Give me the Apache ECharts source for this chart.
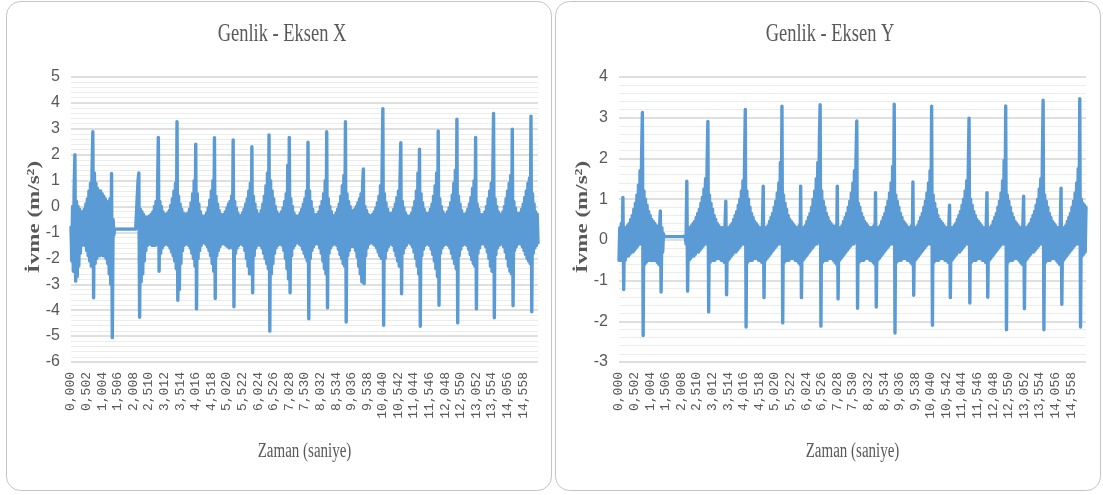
<!DOCTYPE html>
<html>
<head>
<meta charset="utf-8">
<title>Genlik - Eksen X / Y</title>
<script src="https://cdn.jsdelivr.net/npm/echarts@6/dist/echarts.min.js"></script>
<style>
  html, body { margin: 0; padding: 0; background: #ffffff; }
  #chart { width: 1103px; height: 495px; }
</style>
</head>
<body>
<div id="chart"></div>
<script>
// Sampling interval of the accelerometer record (seconds)
const sampleStep = 0.0251;

// Acceleration on the X axis (m/s²), one value per sample
const accelX = [
  -0.8, -2.1, 0.0, -2.5, 0.6,
  2.0, -2.88,
  0.2, -2.7, 0.0, -2.3, -0.1, -1.8, -0.2, -1.5, -0.2, -1.4, -0.1, -1.5, 0.1, -1.7, 0.3, -1.9, 0.6, -2.1, 0.9, -2.3, 1.4,
  2.89, -3.52,
  1.3, -2.2, 0.9, -2.0, 0.7, -1.9, 0.6, -1.9, 0.6, -1.8, 0.5, -1.9, 0.4, -1.9, 0.3, -2.0, 0.2, -2.2, 0.1, -2.6, 0.3, -3.0,
  1.28, -5.06,
  -0.5, -1.1,
  -0.87, -0.87, -0.87, -0.87, -0.87, -0.87, -0.87, -0.87, -0.87, -0.87, -0.87, -0.87, -0.87, -0.87, -0.87,
  -0.87, -0.87, -0.87, -0.87, -0.87, -0.87, -0.87, -0.87, -0.87, -0.87, -0.87, -0.87, -0.87, -0.87,
  -0.8, 1.0,
  1.3, -4.27,
  -0.1, -2.9, -0.2, -2.6, -0.3, -2.1, -0.4, -1.7, -0.4, -1.5, -0.4, -1.45, -0.35, -1.45, -0.3, -1.5, -0.2, -1.5, 0.0, -1.5, 0.2, -1.45, 0.5,
  2.67, -2.5,
  0.2, -1.8, 0.0, -1.6, -0.2, -1.5, -0.3, -1.45, -0.3, -1.45, -0.25, -1.5, -0.15, -1.6, 0.05, -1.75, 0.3, -1.9, 0.6, -2.1, 0.9, -2.4,
  3.27, -3.62,
  0.4, -3.2, 0.1, -2.2, -0.1, -1.7, -0.25, -1.5, -0.3, -1.45, -0.3, -1.45, -0.25, -1.5, -0.1, -1.6, 0.15, -1.8, 0.5, -2.0, 1.0, -2.3,
  2.41, -3.95,
  0.5, -2.0, 0.1, -1.7, -0.2, -1.5, -0.35, -1.4, -0.4, -1.4, -0.35, -1.45, -0.25, -1.55, -0.05, -1.7, 0.25, -1.9, 0.6, -2.2, 1.0, -2.5,
  2.66, -3.55,
  0.4, -1.9, 0.1, -1.7, -0.15, -1.55, -0.3, -1.45, -0.35, -1.4, -0.3, -1.45, -0.2, -1.5, -0.05, -1.55, 0.1, -1.6, 0.2, -1.55, 0.4, -1.6,
  2.57, -3.87,
  0.2, -1.8, -0.05, -1.6, -0.25, -1.5, -0.35, -1.4, -0.35, -1.45, -0.25, -1.5, -0.1, -1.7, 0.1, -2.0, 0.3, -2.3, 0.6, -2.6, 0.9, -2.6,
  2.31, -3.33,
  0.4, -1.9, 0.1, -1.6, -0.15, -1.5, -0.3, -1.45, -0.3, -1.5, -0.15, -1.6, 0.1, -1.8, 0.4, -2.0, 0.8, -2.2, 1.3, -2.4,
  2.76, -4.81,
  1.0, -2.6, 0.6, -2.2, 0.3, -1.8, 0.0, -1.6, -0.2, -1.5, -0.3, -1.45, -0.3, -1.45, -0.2, -1.5, -0.05, -1.7, 0.2, -2.0, 0.5, -2.4, 1.6, -2.8,
  2.67, -3.33,
  0.3, -1.9, 0.0, -1.6, -0.25, -1.5, -0.35, -1.4, -0.4, -1.4, -0.35, -1.45, -0.25, -1.5, -0.1, -1.65, 0.1, -1.8, 0.3, -1.95, 0.6, -2.1,
  2.48, -4.33,
  0.6, -2.0, 0.2, -1.7, -0.1, -1.55, -0.3, -1.45, -0.35, -1.4, -0.3, -1.45, -0.2, -1.6, 0.0, -1.8, 0.2, -2.1, 0.5, -2.4, 1.0, -2.6,
  2.89, -3.91,
  0.3, -1.8, 0.0, -1.6, -0.2, -1.5, -0.35, -1.4, -0.35, -1.45, -0.25, -1.5, -0.1, -1.65, 0.1, -1.85, 0.4, -2.0, 0.8, -2.2, 1.2, -2.3,
  3.27, -4.46,
  0.5, -1.9, 0.2, -1.7, 0.0, -1.55, -0.15, -1.5, -0.2, -1.55, -0.1, -1.7, 0.0, -1.95, 0.15, -2.3, 0.3, -2.6, 0.5, -2.9, 0.8,
  1.45, -2.97,
  0.0, -1.9, -0.15, -1.6, -0.3, -1.45, -0.35, -1.4, -0.35, -1.4, -0.3, -1.45, -0.2, -1.5, -0.05, -1.6, 0.15, -1.75, 0.4, -1.9, 0.8, -2.0, 1.3,
  3.78, -4.58,
  0.5, -2.0, 0.15, -1.7, -0.1, -1.55, -0.25, -1.45, -0.3, -1.45, -0.25, -1.5, -0.1, -1.7, 0.1, -1.9, 0.35, -2.1, 0.6, -2.3, 1.0,
  2.46, -3.37,
  0.2, -1.8, -0.05, -1.6, -0.25, -1.5, -0.35, -1.4, -0.4, -1.4, -0.35, -1.45, -0.25, -1.55, -0.05, -1.75, 0.2, -2.0, 0.6, -2.3, 1.3, -2.6,
  2.21, -4.62,
  0.5, -1.9, 0.15, -1.65, -0.1, -1.5, -0.25, -1.45, -0.3, -1.45, -0.25, -1.5, -0.1, -1.65, 0.1, -1.85, 0.4, -2.1, 0.8, -2.4, 1.3, -2.7,
  2.92, -3.81,
  0.3, -1.8, 0.0, -1.6, -0.2, -1.5, -0.3, -1.45, -0.3, -1.45, -0.2, -1.5, -0.05, -1.6, 0.15, -1.8, 0.45, -2.0, 0.9, -2.2, 1.4, -2.4,
  3.37, -4.49,
  0.4, -1.9, 0.1, -1.65, -0.15, -1.5, -0.3, -1.45, -0.35, -1.45, -0.25, -1.5, -0.1, -1.65, 0.1, -1.85, 0.35, -2.05, 0.7, -2.2, 1.0, -2.3,
  2.67, -3.95,
  0.1, -1.8, -0.1, -1.6, -0.3, -1.45, -0.35, -1.4, -0.3, -1.45, -0.2, -1.55, 0.0, -1.75, 0.3, -2.0, 0.6, -2.3, 0.9, -2.5, 1.1,
  3.59, -4.29,
  0.3, -1.85, 0.0, -1.6, -0.2, -1.5, -0.3, -1.45, -0.3, -1.45, -0.2, -1.55, 0.0, -1.75, 0.3, -2.0, 0.6, -2.3, 0.9, -2.5, 1.2, -2.6,
  2.99, -3.83,
  0.2, -1.7, -0.05, -1.55, -0.25, -1.45, -0.3, -1.4, -0.25, -1.45, -0.1, -1.55, 0.1, -1.7, 0.35, -1.85, 0.6, -2.0, 0.9, -2.1, 1.1, -2.2,
  3.49, -4.06,
  0.5, -1.8, 0.1, -1.6, -0.2, -1.5, -0.3, -1.4
];

// Acceleration on the Y axis (m/s²), one value per sample
const accelY = [
  -0.5, 0.3, -0.5, 0.4, -0.3,
  1.04, -1.22,
  0.3, -0.5, 0.3, -0.4, 0.35, -0.4, 0.4, -0.35, 0.5, -0.3, 0.6, -0.3, 0.75, -0.25, 0.9, -0.2, 1.1, -0.15, 1.35, -0.1, 1.7, -0.1, 2.1,
  3.13, -2.35,
  1.2, -0.6, 1.0, -0.55, 0.85, -0.5, 0.7, -0.5, 0.6, -0.5, 0.5, -0.5, 0.45, -0.5, 0.4, -0.5, 0.35, -0.55, 0.3, -0.6, 0.3,
  0.71, -1.28,
  0.3, -0.3, 0.15,
  0.08, 0.08, 0.08, 0.08, 0.08, 0.08, 0.08, 0.08, 0.08, 0.08, 0.08, 0.08, 0.08, 0.08,
  0.08, 0.08, 0.08, 0.08, 0.08, 0.08, 0.08, 0.08, 0.08, 0.08, 0.08, 0.08, 0.08,
  0.1, -0.1,
  1.44, -1.26,
  0.3, -0.5, 0.3, -0.45, 0.35, -0.4, 0.4, -0.4, 0.45, -0.35, 0.55, -0.3, 0.65, -0.3, 0.75, -0.25, 0.9, -0.2, 1.05, -0.15, 1.25, -0.1, 1.5, -0.1, 1.8,
  2.91, -1.77,
  1.1, -0.55, 0.9, -0.5, 0.75, -0.5, 0.6, -0.5, 0.5, -0.45, 0.4, -0.45, 0.35, -0.45, 0.3, -0.5, 0.3, -0.5, 0.3, -0.55, 0.35,
  0.95, -1.35,
  0.3, -0.5, 0.3, -0.45, 0.35, -0.4, 0.4, -0.35, 0.5, -0.3, 0.6, -0.3, 0.7, -0.25, 0.85, -0.2, 1.0, -0.15, 1.2, -0.1, 1.45, -0.1, 1.8,
  3.2, -2.14,
  1.2, -0.55, 1.0, -0.5, 0.8, -0.5, 0.65, -0.5, 0.55, -0.45, 0.45, -0.45, 0.4, -0.45, 0.35, -0.5, 0.3, -0.5, 0.3, -0.55, 0.35,
  1.32, -1.42,
  0.3, -0.5, 0.3, -0.45, 0.35, -0.4, 0.45, -0.35, 0.55, -0.3, 0.65, -0.25, 0.8, -0.2, 0.95, -0.15, 1.15, -0.1, 1.4, -0.1, 1.9, -0.1,
  3.28, -2.04,
  1.1, -0.55, 0.9, -0.5, 0.75, -0.5, 0.6, -0.5, 0.5, -0.45, 0.45, -0.45, 0.4, -0.45, 0.35, -0.5, 0.3, -0.5, 0.3, -0.55, 0.35, -0.6,
  1.32, -1.42,
  0.3, -0.5, 0.3, -0.45, 0.35, -0.4, 0.45, -0.35, 0.55, -0.3, 0.65, -0.25, 0.8, -0.2, 1.0, -0.15, 1.2, -0.1, 1.5, -0.1, 1.9, -0.05, 2.45,
  3.32, -2.12,
  1.2, -0.55, 0.95, -0.5, 0.8, -0.5, 0.65, -0.5, 0.55, -0.45, 0.45, -0.45, 0.4, -0.45, 0.35, -0.5, 0.3, -0.55, 0.35, -0.6,
  1.32, -1.45,
  0.3, -0.5, 0.3, -0.45, 0.35, -0.4, 0.45, -0.35, 0.55, -0.3, 0.65, -0.25, 0.8, -0.2, 0.95, -0.15, 1.15, -0.1, 1.4, -0.1, 1.7, -0.05, 2.0,
  2.92, -1.68,
  0.9, -0.55, 0.8, -0.5, 0.65, -0.5, 0.55, -0.5, 0.45, -0.45, 0.4, -0.45, 0.35, -0.45, 0.3, -0.5, 0.3, -0.5, 0.3, -0.55, 0.35, -0.6,
  1.16, -1.65,
  0.3, -0.5, 0.3, -0.45, 0.35, -0.4, 0.45, -0.35, 0.55, -0.3, 0.65, -0.25, 0.8, -0.2, 0.95, -0.15, 1.15, -0.1, 1.4, -0.1, 1.8, -0.1,
  3.33, -2.29,
  1.1, -0.55, 0.95, -0.5, 0.8, -0.5, 0.65, -0.5, 0.55, -0.45, 0.45, -0.45, 0.4, -0.45, 0.35, -0.5, 0.3, -0.5, 0.3, -0.55, 0.35, -0.6,
  1.42, -1.36,
  0.3, -0.5, 0.3, -0.45, 0.35, -0.4, 0.45, -0.35, 0.55, -0.3, 0.65, -0.25, 0.8, -0.2, 0.95, -0.15, 1.15, -0.1, 1.4, -0.1, 1.7, -0.1,
  3.28, -2.1,
  1.1, -0.55, 0.9, -0.5, 0.75, -0.5, 0.6, -0.5, 0.5, -0.45, 0.45, -0.45, 0.4, -0.45, 0.35, -0.5, 0.3, -0.5, 0.3, -0.55, 0.3,
  0.85, -1.42,
  0.3, -0.5, 0.3, -0.45, 0.35, -0.4, 0.4, -0.35, 0.5, -0.3, 0.6, -0.3, 0.7, -0.25, 0.85, -0.2, 1.0, -0.15, 1.2, -0.1, 1.45, -0.1, 1.7,
  2.99, -1.55,
  1.0, -0.55, 0.85, -0.5, 0.7, -0.5, 0.6, -0.5, 0.5, -0.45, 0.45, -0.45, 0.4, -0.45, 0.35, -0.5, 0.3, -0.5, 0.3, -0.55, 0.35,
  1.16, -1.41,
  0.3, -0.5, 0.3, -0.45, 0.35, -0.4, 0.45, -0.35, 0.55, -0.3, 0.65, -0.25, 0.8, -0.2, 0.95, -0.15, 1.15, -0.1, 1.45, -0.1, 1.95, -0.1,
  3.29, -2.21,
  1.1, -0.55, 0.95, -0.5, 0.8, -0.5, 0.65, -0.5, 0.55, -0.45, 0.45, -0.45, 0.4, -0.45, 0.35, -0.5, 0.3, -0.55, 0.3, -0.6, 0.35,
  1.07, -1.69,
  0.3, -0.5, 0.3, -0.45, 0.35, -0.4, 0.4, -0.35, 0.5, -0.3, 0.6, -0.3, 0.7, -0.25, 0.85, -0.2, 1.0, -0.15, 1.25, -0.1, 1.5, -0.1, 1.9,
  3.43, -2.21,
  1.1, -0.55, 0.95, -0.5, 0.8, -0.5, 0.65, -0.5, 0.55, -0.45, 0.45, -0.45, 0.4, -0.45, 0.35, -0.5, 0.3, -0.55, 0.3, -0.6, 0.35,
  1.27, -1.58,
  0.3, -0.5, 0.3, -0.45, 0.35, -0.4, 0.45, -0.35, 0.55, -0.3, 0.65, -0.25, 0.8, -0.2, 0.95, -0.15, 1.15, -0.1, 1.4, -0.1, 1.75, -0.1,
  3.47, -2.14,
  1.0, -0.4, 0.9, -0.35, 0.85, -0.3, 0.8
];

// Time stamps of the samples, written the Turkish way (decimal comma)
const timeLabels = accelX.map((_, i) => (i * sampleStep).toFixed(3).replace('.', ','));

const chartTitles = ['Genlik - Eksen X', 'Genlik - Eksen Y'];
const yAxisName = 'İvme (m/s²)';
const xAxisName = 'Zaman (saniye)';
const yLimits = [[-6, 5], [-3, 4]];

const LINE_BLUE = '#5B9BD5';
const TEXT_GREY = '#595959';

// Two panels side by side: plot box, centre of each panel's texts
const panels = [
  { left: 71, frameX: 6.5, titleX: 282, yNameX: 35 },
  { left: 619, frameX: 555.5, titleX: 830, yNameX: 583 }
];
const plotTop = 77, plotW = 467, plotH = 285;

const grids = [], xAxes = [], yAxes = [], series = [], graphics = [];
const signals = [accelX, accelY];

panels.forEach((p, k) => {
  grids.push({ left: p.left, top: plotTop, width: plotW, height: plotH });

  xAxes.push({
    type: 'category',
    gridIndex: k,
    data: timeLabels,
    boundaryGap: false,
    axisLine: { show: false },
    axisTick: { show: false },
    splitLine: { show: false },
    axisLabel: {
      interval: 19,
      rotate: 90,
      margin: 10,
      color: TEXT_GREY,
      fontFamily: '"Liberation Mono", monospace',
      fontSize: 13
    }
  });

  yAxes.push({
    type: 'value',
    gridIndex: k,
    min: yLimits[k][0],
    max: yLimits[k][1],
    interval: 1,
    axisLine: { show: false },
    axisTick: { show: false },
    axisLabel: {
      margin: 11,
      color: TEXT_GREY,
      fontFamily: '"Liberation Sans Narrow", "Liberation Sans", sans-serif',
      fontSize: 16
    },
    splitLine: { show: true, lineStyle: { color: '#D4D4D4', width: 1.5 } },
    minorTick: { show: false, splitNumber: 5 },
    minorSplitLine: { show: true, lineStyle: { color: '#ECECEC', width: 1.2 } }
  });

  series.push({
    type: 'line',
    xAxisIndex: k,
    yAxisIndex: k,
    data: signals[k],
    showSymbol: false,
    symbol: 'none',
    sampling: null,
    lineStyle: { color: LINE_BLUE, width: 3.4, join: 'round', cap: 'round' },
    emphasis: { disabled: true },
    z: 3
  });

  // panel frame
  graphics.push({
    type: 'rect',
    z: -1,
    shape: { x: p.frameX, y: 1.5, width: 545, height: 489, r: 14 },
    style: { fill: 'none', stroke: '#C4C4C4', lineWidth: 1 }
  });

  // panel title
  graphics.push({
    type: 'text',
    x: p.titleX,
    y: 34,
    scaleX: 0.71,
    style: {
      text: chartTitles[k],
      font: '26px "Liberation Serif", serif',
      fill: TEXT_GREY,
      textAlign: 'center', textVerticalAlign: 'middle',
      align: 'center', verticalAlign: 'middle'
    }
  });

  // x axis name
  graphics.push({
    type: 'text',
    x: p.left + plotW / 2,
    y: 452,
    scaleX: 0.75,
    style: {
      text: xAxisName,
      font: '20px "Liberation Serif", serif',
      fill: TEXT_GREY,
      textAlign: 'center', textVerticalAlign: 'middle',
      align: 'center', verticalAlign: 'middle'
    }
  });

  // y axis name, reading bottom to top
  graphics.push({
    type: 'text',
    x: p.yNameX,
    y: 217,
    rotation: Math.PI / 2,
    scaleY: 0.75,
    style: {
      text: yAxisName,
      font: 'bold 23px "Liberation Serif", serif',
      fill: TEXT_GREY,
      textAlign: 'center', textVerticalAlign: 'middle',
      align: 'center', verticalAlign: 'middle'
    }
  });
});

const chart = echarts.init(document.getElementById('chart'), null, { renderer: 'canvas' });
chart.setOption({
  backgroundColor: '#ffffff',
  animation: false,
  grid: grids,
  xAxis: xAxes,
  yAxis: yAxes,
  series: series,
  graphic: { elements: graphics }
});
</script>
</body>
</html>
